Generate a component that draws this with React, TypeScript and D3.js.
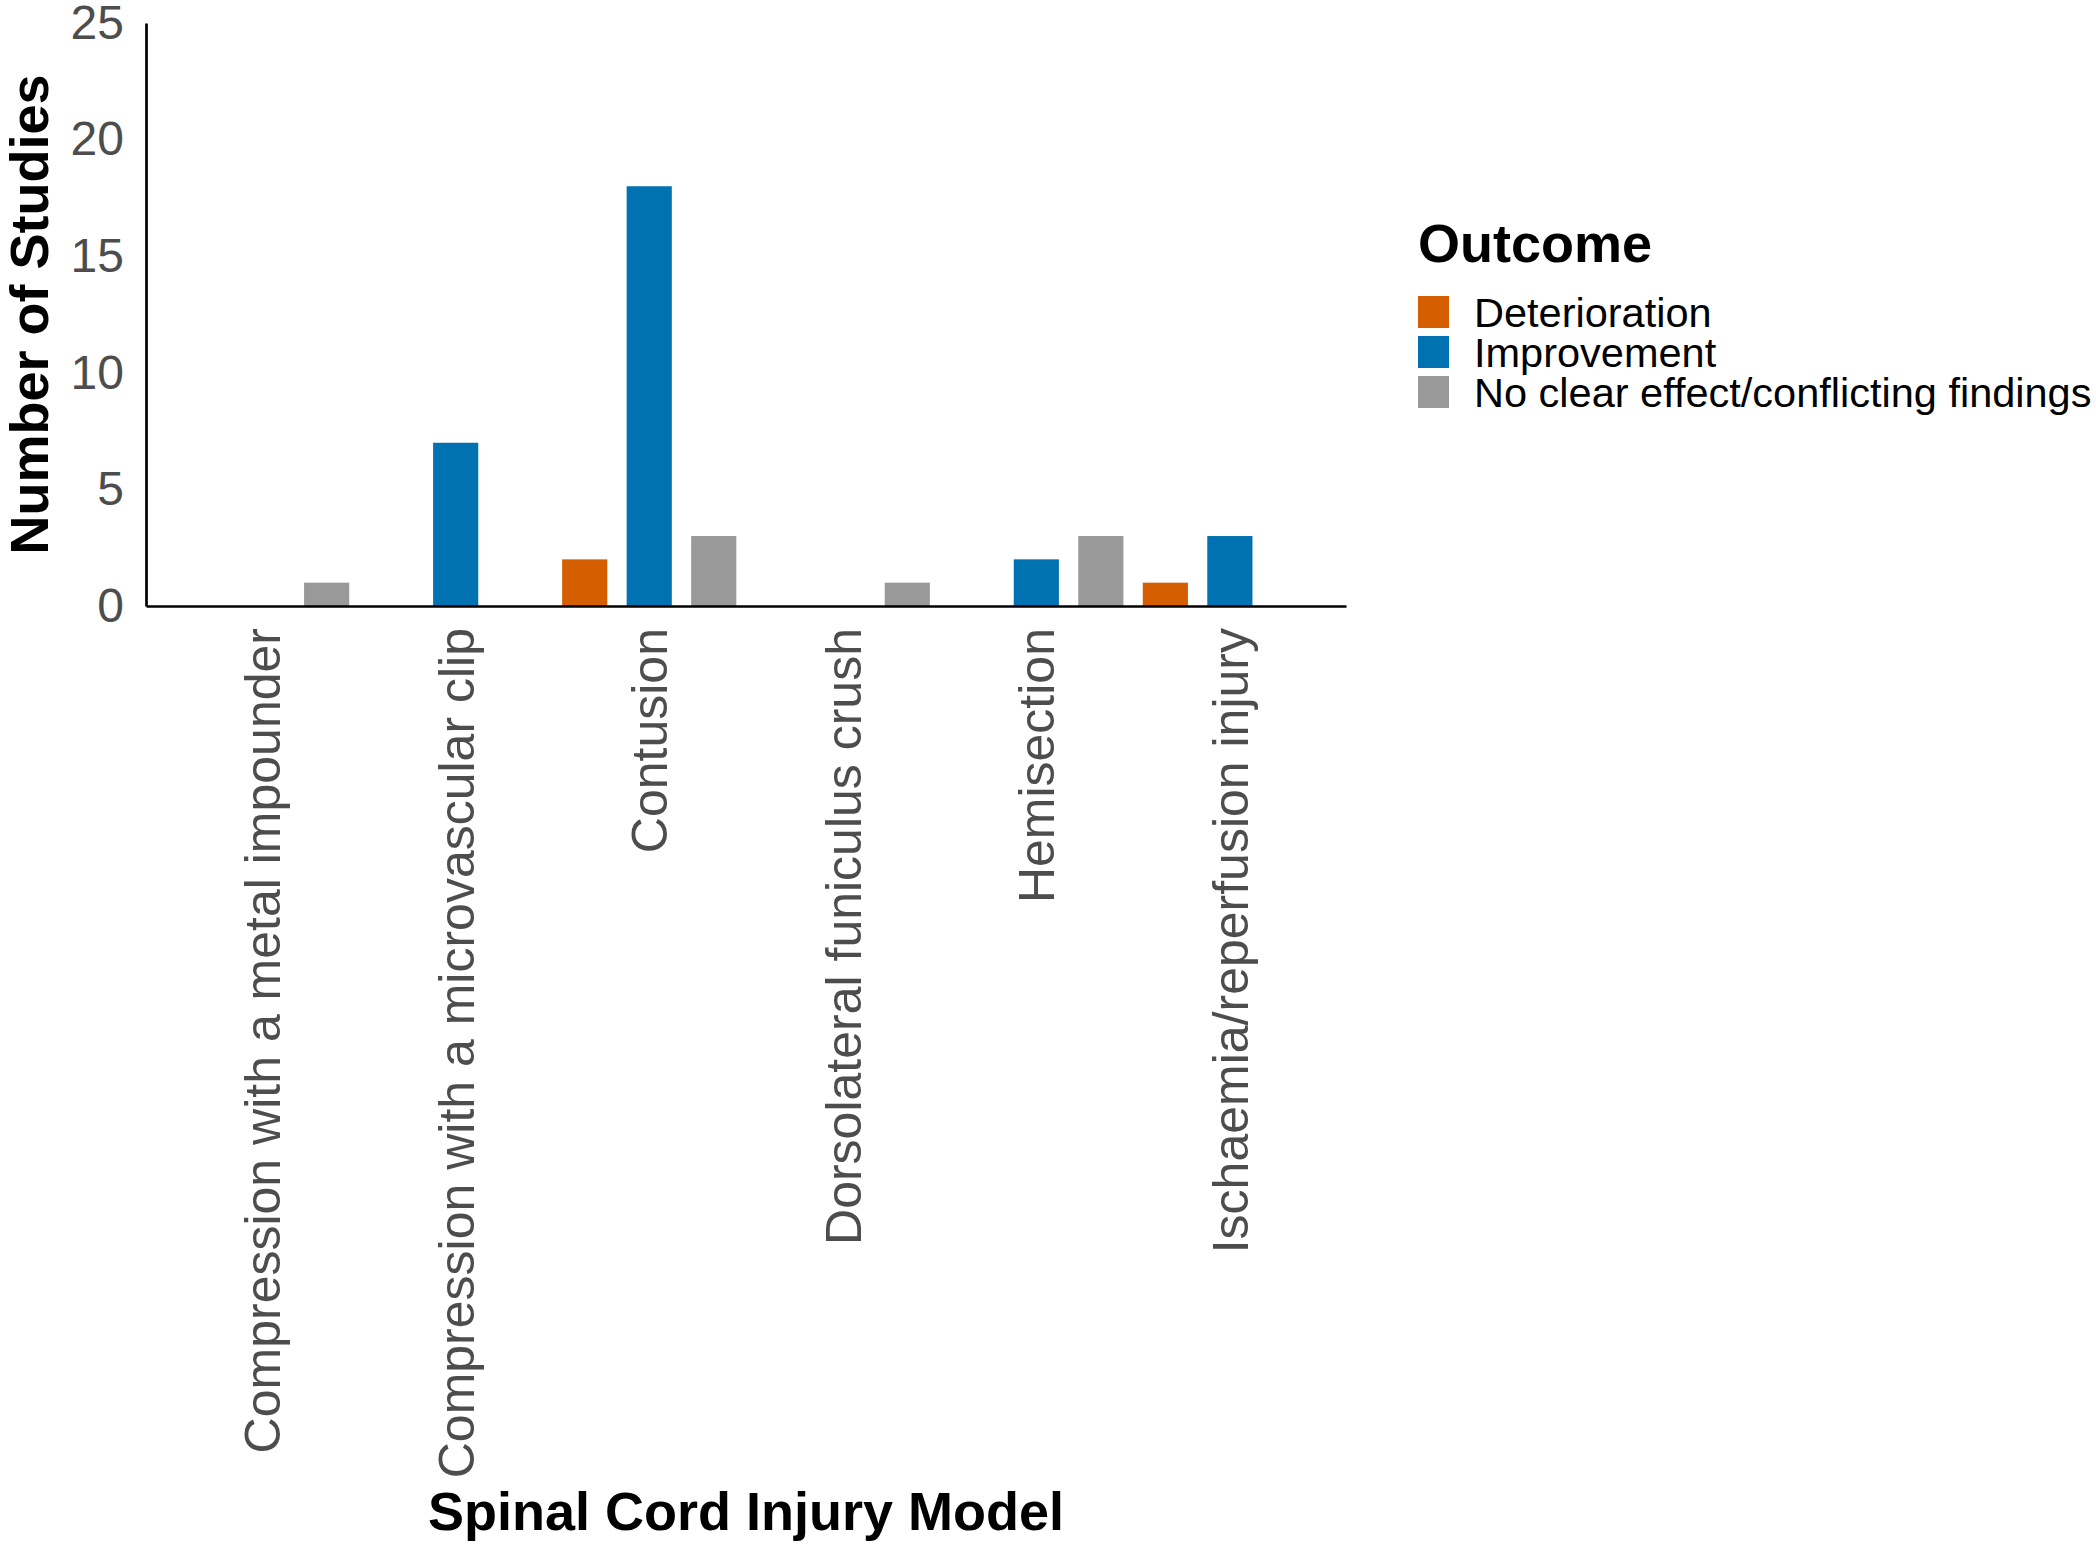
import { useRef, useEffect } from "react";
import * as d3 from "d3";

const categories = [
  "Compression with a metal impounder",
  "Compression with a microvascular clip",
  "Contusion",
  "Dorsolateral funiculus crush",
  "Hemisection",
  "Ischaemia/reperfusion injury",
];

const outcomes = ["Deterioration", "Improvement", "No clear effect/conflicting findings"];
const outcomeColors = ["#D55E00", "#0072B2", "#999999"];

// number of studies per category, one array per outcome
const deterioration = [0, 0, 2, 0, 0, 1];
const improvement = [0, 7, 18, 0, 2, 3];
const noClearEffect = [1, 0, 3, 1, 3, 0];

const yTicks = [0, 5, 10, 15, 20, 25];

const W = 2096;
const H = 1544;
const FONT = "'Liberation Sans', Arial, Helvetica, sans-serif";

export default function App() {
  const svgRef = useRef<SVGSVGElement>(null);

  useEffect(() => {
    if (!svgRef.current) return;
    const svg = d3.select(svgRef.current);
    svg.selectAll("*").remove();

    const left = 146;
    const right = 1346;
    const top = 23;
    const bottom = 606;

    const series = [deterioration, improvement, noClearEffect];
    const rows = categories.flatMap((c, i) =>
      outcomes.map((o, j) => ({ category: c, outcome: o, value: series[j][i], color: outcomeColors[j] }))
    );

    // Scales
    const x = d3.scalePoint<string>().domain(categories).range([left, right]).padding(0.6);
    const step = x.step();
    const xInner = d3
      .scaleBand<string>()
      .domain(outcomes)
      .range([-step / 2, step / 2])
      .paddingInner(0.3)
      .paddingOuter(0.15);
    const y = d3.scaleLinear().domain([0, 25]).range([bottom, top]);

    // Bars
    svg
      .append("g")
      .selectAll("rect")
      .data(rows.filter((d) => d.value > 0))
      .join("rect")
      .attr("x", (d) => x(d.category)! + xInner(d.outcome)!)
      .attr("y", (d) => y(d.value))
      .attr("width", xInner.bandwidth())
      .attr("height", (d) => y(0) - y(d.value))
      .attr("fill", (d) => d.color);

    // Y axis
    const yAxis = svg
      .append("g")
      .attr("transform", `translate(${left},0)`)
      .call(d3.axisLeft(y).tickValues(yTicks).tickSize(0).tickPadding(22).tickFormat(d3.format("d")));
    yAxis.select(".domain").attr("stroke", "#000").attr("stroke-width", 2.7);
    yAxis
      .selectAll("text")
      .attr("fill", "#4D4D4D")
      .style("font-family", FONT)
      .style("font-size", "48px");

    // X axis
    const xAxis = svg
      .append("g")
      .attr("transform", `translate(0,${bottom})`)
      .call(d3.axisBottom(x).tickSize(0).tickSizeOuter(0));
    xAxis.select(".domain").attr("stroke", "#000").attr("stroke-width", 2.7);
    xAxis
      .selectAll("text")
      .attr("transform", "rotate(-90)")
      .attr("x", -22)
      .attr("y", 0)
      .attr("dy", "0.35em")
      .attr("text-anchor", "end")
      .attr("fill", "#4D4D4D")
      .style("font-family", FONT)
      .style("font-size", "50px");

    // Axis titles
    svg
      .append("text")
      .attr("transform", `translate(48,${(top + bottom) / 2}) rotate(-90)`)
      .attr("text-anchor", "middle")
      .style("font-family", FONT)
      .style("font-weight", "bold")
      .style("font-size", "54px")
      .text("Number of Studies");

    svg
      .append("text")
      .attr("x", (left + right) / 2)
      .attr("y", 1530)
      .attr("text-anchor", "middle")
      .style("font-family", FONT)
      .style("font-weight", "bold")
      .style("font-size", "54px")
      .text("Spinal Cord Injury Model");

    // Legend
    const legend = svg.append("g").attr("transform", "translate(1418,0)");
    legend
      .append("text")
      .attr("x", 0)
      .attr("y", 262)
      .style("font-family", FONT)
      .style("font-weight", "bold")
      .style("font-size", "54px")
      .text("Outcome");

    const items = legend
      .selectAll("g.item")
      .data(outcomes)
      .join("g")
      .attr("class", "item")
      .attr("transform", (_, i) => `translate(0,${312 + i * 40})`);
    items
      .append("rect")
      .attr("x", 0)
      .attr("y", -16)
      .attr("width", 31)
      .attr("height", 32)
      .attr("fill", (_, i) => outcomeColors[i]);
    items
      .append("text")
      .attr("x", 56)
      .attr("y", 0)
      .attr("dy", "0.35em")
      .style("font-family", FONT)
      .style("font-size", "41.5px")
      .text((d) => d);
  }, []);

  return (
    <svg
      ref={svgRef}
      width={W}
      height={H}
      viewBox={`0 0 ${W} ${H}`}
      style={{ position: "absolute", left: 0, top: 0, background: "#fff" }}
    />
  );
}
